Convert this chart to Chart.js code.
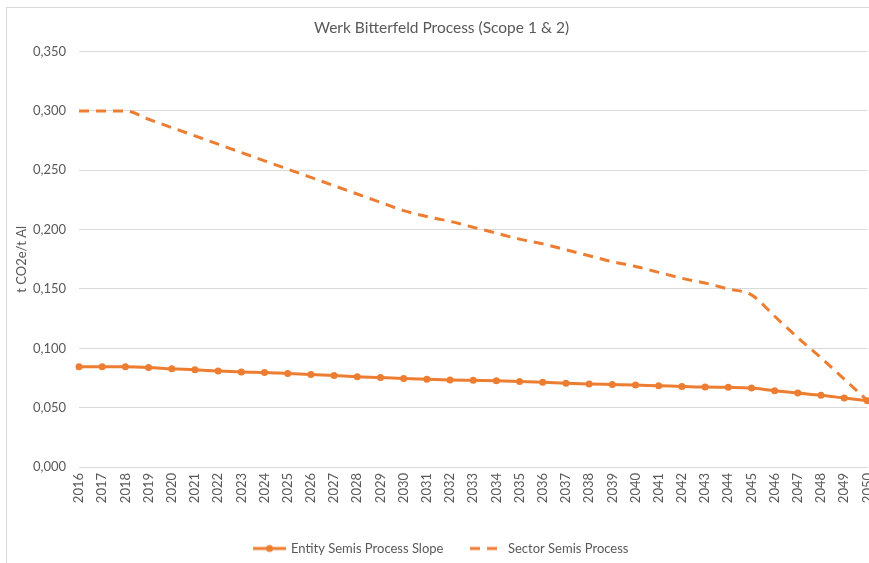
<!DOCTYPE html>
<html lang="de">
<head>
  <meta charset="UTF-8">
  <title>Werk Bitterfeld Process</title>
  <script src="https://cdn.jsdelivr.net/npm/chart.js"></script>
  <style>
    html, body { margin: 0; padding: 0; background: #fff; overflow: hidden; }
    .rahmen { position: absolute; left: 6px; top: 7px; width: 900px; height: 600px; border: 1px solid #d9d9d9; }
    .box { position: absolute; left: 0; top: 0; width: 889px; height: 580px; }
  </style>
</head>
<body>
  <div class="rahmen"></div>
  <div class="box"><canvas id="grafico"></canvas></div>

<script>
  // Daten
  var jahre = ["2016", "2017", "2018", "2019", "2020", "2021", "2022", "2023", "2024", "2025",
    "2026", "2027", "2028", "2029", "2030", "2031", "2032", "2033", "2034", "2035",
    "2036", "2037", "2038", "2039", "2040", "2041", "2042", "2043", "2044", "2045",
    "2046", "2047", "2048", "2049", "2050"];

  var entitySlope = [0.0844, 0.0844, 0.0844, 0.0839, 0.0827, 0.0819, 0.0808, 0.0800, 0.0797, 0.0788,
    0.0780, 0.0771, 0.0760, 0.0754, 0.0746, 0.0740, 0.0734, 0.0730, 0.0726, 0.0720,
    0.0714, 0.0706, 0.0700, 0.0695, 0.0690, 0.0684, 0.0679, 0.0673, 0.0671, 0.0665,
    0.0643, 0.0623, 0.0604, 0.0581, 0.0558];

  var sectorProcess = [0.300, 0.300, 0.300, 0.293, 0.286, 0.279, 0.272, 0.265, 0.258, 0.251,
    0.244, 0.237, 0.230, 0.223, 0.216, 0.211, 0.207, 0.202, 0.197, 0.192,
    0.188, 0.183, 0.178, 0.173, 0.169, 0.164, 0.159, 0.155, 0.150, 0.145,
    0.127, 0.109, 0.092, 0.074, 0.056];

  var orange = '#ED7D31';
  var textFarbe = '#595959';
  var schrift = 'Lato, "Open Sans", sans-serif';

  // kleine Bilder fuer die Legende (Linie mit Punkt / gestrichelt)
  function legendenBild(gestrichelt) {
    var c = document.createElement('canvas');
    c.width = 33; c.height = 10;
    var ctx = c.getContext('2d');
    ctx.strokeStyle = orange;
    ctx.lineWidth = 3;
    if (gestrichelt) ctx.setLineDash([10, 7]);
    ctx.beginPath();
    ctx.moveTo(0, 5);
    ctx.lineTo(33, 5);
    ctx.stroke();
    if (!gestrichelt) {
      ctx.fillStyle = orange;
      ctx.beginPath();
      ctx.arc(16.5, 5, 3.5, 0, Math.PI * 2);
      ctx.fill();
    }
    return c;
  }
  var bildEntity = legendenBild(false);
  var bildSector = legendenBild(true);

  Chart.defaults.font.family = schrift;
  Chart.defaults.color = textFarbe;

  var grafico = new Chart(document.getElementById('grafico'), {
    type: 'line',
    data: {
      labels: jahre,
      datasets: [{
        label: 'Entity Semis Process Slope',
        data: entitySlope,
        borderColor: orange,
        backgroundColor: orange,
        borderWidth: 3,
        pointRadius: 3.5,
        pointHoverRadius: 4,
        pointBorderWidth: 0,
        cubicInterpolationMode: 'monotone',
        pointStyle: 'circle'
      }, {
        label: 'Sector Semis Process',
        data: sectorProcess,
        borderColor: orange,
        backgroundColor: orange,
        borderWidth: 3,
        borderDash: [10, 7],
        pointRadius: 0,
        cubicInterpolationMode: 'monotone'
      }]
    },
    options: {
      responsive: true,
      maintainAspectRatio: false,
      animation: false,
      layout: {
        padding: { left: 0, right: 6, top: 9, bottom: 15 }
      },
      plugins: {
        title: {
          display: true,
          text: 'Werk Bitterfeld Process (Scope 1 & 2)',
          color: textFarbe,
          font: { size: 15.5, weight: 'normal' },
          padding: { top: 10, bottom: 14 }
        },
        legend: {
          position: 'bottom',
          labels: {
            usePointStyle: true,
            pointStyleWidth: 30,
            padding: 28,
            font: { size: 13 },
            color: textFarbe,
            generateLabels: function (chart) {
              return [
                { text: 'Entity Semis Process Slope', pointStyle: bildEntity, fontColor: textFarbe, datasetIndex: 0, lineWidth: 0, strokeStyle: 'transparent', fillStyle: 'transparent' },
                { text: 'Sector Semis Process', pointStyle: bildSector, fontColor: textFarbe, datasetIndex: 1, lineWidth: 0, strokeStyle: 'transparent', fillStyle: 'transparent' }
              ];
            }
          }
        },
        tooltip: { enabled: false }
      },
      scales: {
        x: {
          offset: false,
          grid: { display: false, drawTicks: false },
          border: { display: true, color: '#d9d9d9' },
          ticks: {
            autoSkip: false,
            maxRotation: 90,
            minRotation: 90,
            padding: 6,
            font: { size: 13 },
            color: textFarbe
          },
          afterFit: function (scale) { scale.height = 47; }
        },
        y: {
          min: 0,
          max: 0.35,
          grid: { color: '#d9d9d9', drawTicks: false },
          border: { display: false },
          ticks: {
            stepSize: 0.05,
            padding: 13,
            font: { size: 13 },
            color: textFarbe,
            callback: function (wert) { return wert.toFixed(3).replace('.', ','); }
          },
          title: {
            display: true,
            text: 't CO2e/t Al',
            color: textFarbe,
            font: { size: 13 },
            padding: { top: 14, bottom: 0 }
          },
          afterFit: function (scale) { scale.width = 79; }
        }
      }
    }
  });
</script>
</body>
</html>
